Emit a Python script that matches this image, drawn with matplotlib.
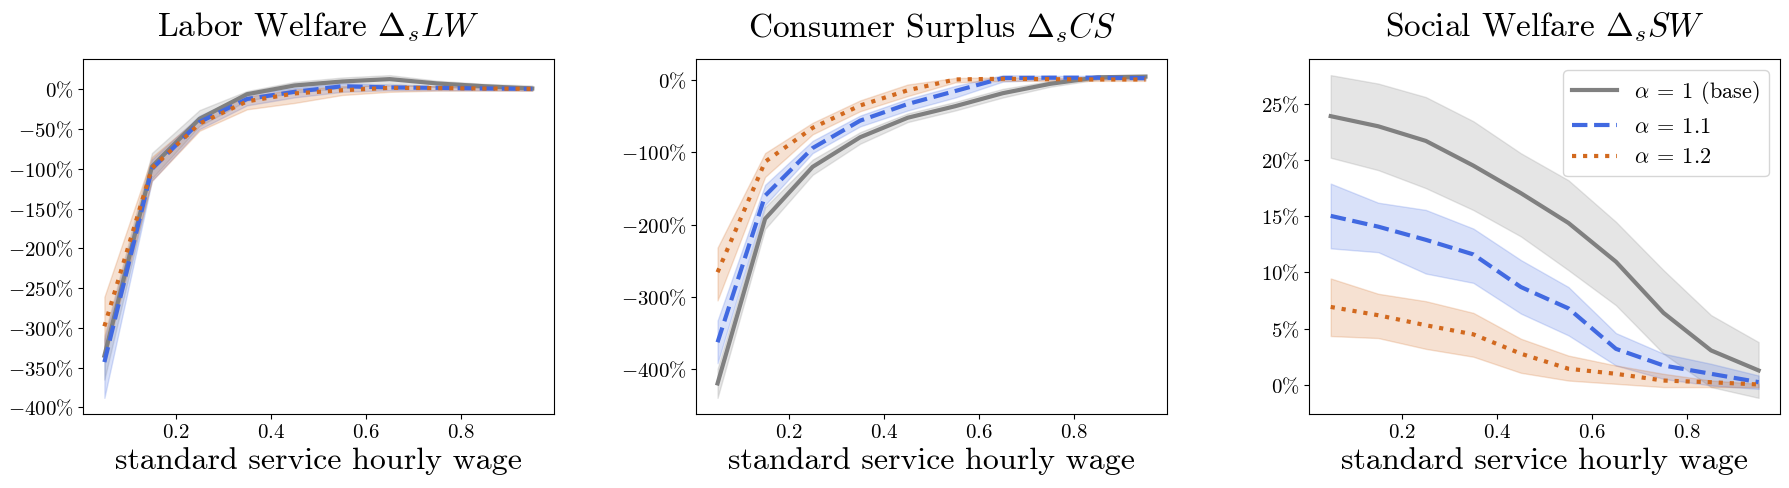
import numpy as np
import matplotlib
matplotlib.use('Agg')
import matplotlib.pyplot as plt
from matplotlib.ticker import FuncFormatter, MultipleLocator

plt.rcParams['font.family'] = 'cmr10'
plt.rcParams['mathtext.fontset'] = 'cm'
plt.rcParams['axes.formatter.use_mathtext'] = True

# 标准服务时薪
wage = [0.05, 0.15, 0.25, 0.35, 0.45, 0.55, 0.65, 0.75, 0.85, 0.95]

# Labor welfare (%)
lw_base = [-335, -97, -37, -6, 5, 10, 13, 7.5, 4, 1.2]
lw_base_lo = [-365, -112, -46, -14, -4, 2, 7, 3, 1, -1]
lw_base_hi = [-310, -80, -26, -2, 9.5, 15, 18, 11, 7, 5]
lw_a11 = [-343, -100, -41, -12, -3, 4, 2.5, 2, 1.2, 0.8]
lw_a11_lo = [-388, -115, -50, -20, -10, -3, -1, -1, -1, -1.5]
lw_a11_hi = [-315, -88, -33, -6, 2, 8, 6, 4, 3, 2.5]
lw_a12 = [-298, -99, -43, -15, -5, -1, 2, 1.7, 1.2, 0.8]
lw_a12_lo = [-340, -115, -52, -25, -17, -7, -3, -1.5, -1.5, -1.7]
lw_a12_hi = [-261, -85, -35, -9, 0, 4, 5, 4, 3, 2.5]

# Consumer surplus (%)
cs_base = [-420, -192, -120, -79, -52, -36, -18, -5, 4, 5]
cs_base_lo = [-440, -206, -131, -88, -58, -42, -24, -9, 1, 2]
cs_base_hi = [-400, -176, -110, -72, -46, -30, -12, -1, 7, 7]
cs_a11 = [-363, -160, -94, -56, -33, -15, 3, 3.5, 3.5, 2.8]
cs_a11_lo = [-392, -173, -101, -64, -42, -24, -2, 1, 1, 0.5]
cs_a11_hi = [-333, -145, -84, -49, -26, -8, 7, 6, 6, 5]
cs_a12 = [-266, -113, -66, -35, -14, 1, 2, 1.4, 1, 1]
cs_a12_lo = [-305, -134, -75, -43, -22, -3, -1, -1, -1, -1]
cs_a12_hi = [-232, -101, -59, -28, -6, 3, 4, 3, 3, 3]

# Social welfare (%)
sw_base = [23.9, 23.0, 21.7, 19.5, 17.05, 14.4, 10.95, 6.4, 3.06, 1.28]
sw_base_lo = [20.2, 19.1, 17.5, 15.55, 13.2, 10.2, 7.08, 2.77, -0.2, -1.16]
sw_base_hi = [27.55, 26.8, 25.6, 23.45, 20.6, 18.2, 14.5, 10.2, 6.2, 3.8]
sw_a11 = [15.03, 14.07, 12.9, 11.6, 8.7, 6.8, 3.2, 1.72, 0.98, 0.24]
sw_a11_lo = [12.14, 11.8, 9.9, 9.07, 6.34, 4.4, 1.72, 0.53, -0.06, -0.36]
sw_a11_hi = [17.9, 16.2, 15.56, 13.9, 11.1, 8.7, 4.6, 2.77, 1.87, 0.83]
sw_a12 = [6.93, 6.19, 5.3, 4.49, 2.77, 1.43, 0.98, 0.38, 0.23, 0.03]
sw_a12_lo = [4.34, 4.16, 3.2, 2.5, 1.07, 0.38, 0.09, -0.2, -0.2, -0.2]
sw_a12_hi = [9.46, 8.1, 7.44, 6.4, 4.1, 2.6, 1.72, 0.98, 0.38, 0.09]

titles = [r'Labor Welfare $\Delta_s LW$',
          r'Consumer Surplus $\Delta_s CS$',
          r'Social Welfare $\Delta_s SW$']
labels = [r'$\alpha\:=\:1$ (base)', r'$\alpha\:=\:1.1$', r'$\alpha\:=\:1.2$']
colors = ['gray', 'royalblue', 'chocolate']
styles = ['-', '--', ':']
ystep = [50, 100, 5]

panels = [
    [(lw_base, lw_base_lo, lw_base_hi), (lw_a11, lw_a11_lo, lw_a11_hi), (lw_a12, lw_a12_lo, lw_a12_hi)],
    [(cs_base, cs_base_lo, cs_base_hi), (cs_a11, cs_a11_lo, cs_a11_hi), (cs_a12, cs_a12_lo, cs_a12_hi)],
    [(sw_base, sw_base_lo, sw_base_hi), (sw_a11, sw_a11_lo, sw_a11_hi), (sw_a12, sw_a12_lo, sw_a12_hi)],
]

fig, axes = plt.subplots(1, 3, figsize=(17.9, 4.88), dpi=100)
fig.subplots_adjust(left=83 / 1790, right=1780 / 1790, top=1 - 59 / 488,
                    bottom=1 - 414 / 488, wspace=0.3027)

pct = FuncFormatter(lambda v, p: r'$%d\%%$' % round(v))
dec = FuncFormatter(lambda v, p: r'$%.1f$' % v)

for ax, title, series, step in zip(axes, titles, panels, ystep):
    for (mid, lo, hi), c, ls, lab in zip(series, colors, styles, labels):
        ax.fill_between(wage, lo, hi, color=c, alpha=0.2)
        ax.plot(wage, mid, color=c, linestyle=ls, linewidth=3, label=lab)
    ax.set_title(title, fontsize=24, pad=16)
    ax.set_xlabel('standard service hourly wage', fontsize=23)
    ax.yaxis.set_major_locator(MultipleLocator(step))
    ax.yaxis.set_major_formatter(pct)
    ax.xaxis.set_major_formatter(dec)
    ax.tick_params(labelsize=15)
    ax.set_xticks([0.2, 0.4, 0.6, 0.8])

axes[2].legend(loc='upper right', fontsize=16)

plt.savefig('out.png', dpi=100)
